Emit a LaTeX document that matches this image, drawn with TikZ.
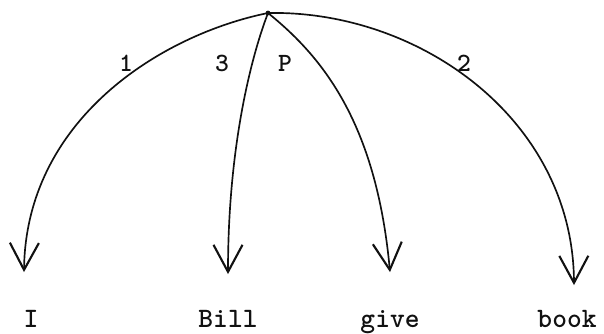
\documentclass[tikz,border=0pt]{standalone}
\usepackage{tikz}
\usetikzlibrary{arrows.meta,calc}
\definecolor{ink}{HTML}{111111}
\tikzset{
  word/.style={font=\fontsize{16}{19}\selectfont\ttfamily\bfseries,text=ink,
               anchor=base,inner sep=0pt,text height=10pt,text depth=0pt},
  rolelabel/.style={font=\fontsize{15}{18}\selectfont\ttfamily\bfseries,text=ink,
                    anchor=base,inner sep=0pt},
  deparr/.style={draw=ink,line width=0.95pt,
                 -{Straight Barb[length=5.4mm,width=5.8mm,line width=1.2pt]}}
}

\begin{document}
\begin{tikzpicture}[x=0.02cm,y=-0.02cm]
  \useasboundingbox (0,0) rectangle (604,334);

  \coordinate (top) at (268,13);
  \fill[ink] (top) circle[radius=2.4];

  % the four words along the bottom
  \foreach \w/\xpos in {I/31,Bill/228,give/390,book/567} {
    \node[word] (\w) at (\xpos,327) {\w};
  }

  \draw[deparr] (top) .. controls (160,35) and (26,120) .. ($(I.north)+(-7,-37)$);
  \draw[deparr] (top) .. controls (250,60) and (228,150) .. ($(Bill.north)+(0,-35)$);
  \draw[deparr] (top) .. controls (320,55) and (376,120) .. ($(give.north)+(0,-37)$);
  \draw[deparr] (top) .. controls (420,10) and (573,120) .. ($(book.north)+(7,-24)$);

  \node[rolelabel] (l1) at (126,72) {1};
  \node[rolelabel] (l3) at (222,72) {3};
  \node[rolelabel] (lP) at (285,72) {P};
  \node[rolelabel] (l2) at (464,72) {2};
\end{tikzpicture}
\end{document}
